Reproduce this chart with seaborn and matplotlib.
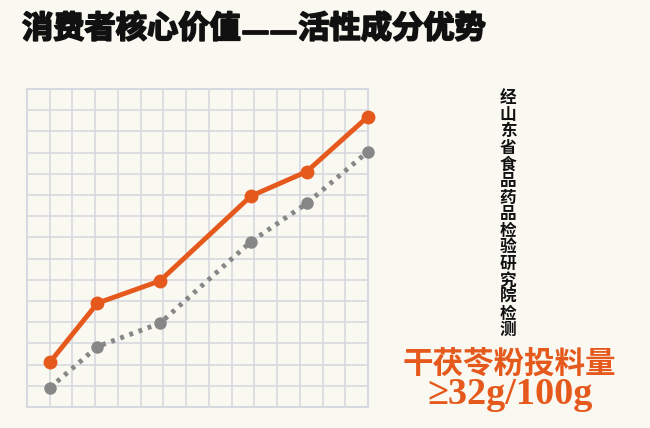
import matplotlib
matplotlib.use("Agg")
import matplotlib.pyplot as plt
import matplotlib.patheffects as pe
import seaborn as sns
import pandas as pd

# ---- data ----
x_pos = [1, 3.1, 5.85, 9.85, 12.3, 15]
orange_vals = [2.1, 4.9, 5.95, 9.95, 11.1, 13.7]
gray_vals = [0.9, 2.85, 3.95, 7.8, 9.6, 12.05]
title_left = "消费者核心价值"
title_dash = "——"
title_right = "活性成分优势"
side_note = "经山东省食品药品检验研究院检测"
highlight_1 = "干茯苓粉投料量"
highlight_2 = "≥32g/100g"

BG = "#FAF9F1"
ORANGE = "#E5591D"
GRAY = "#878787"
GRID = "#D6D9E0"

sns.set_theme(style="white")
plt.rcParams['font.family'] = ['Noto Sans CJK SC', 'DejaVu Sans']

fig = plt.figure(figsize=(6.5, 4.28), dpi=100)
fig.patch.set_facecolor(BG)
ax = fig.add_axes([27/650, 21/428, 341/650, 318/428])
ax.set_facecolor(BG)

df_o = pd.DataFrame({"x": x_pos, "y": orange_vals})
df_g = pd.DataFrame({"x": x_pos, "y": gray_vals})

sns.lineplot(data=df_g, x="x", y="y", ax=ax, color=GRAY, linewidth=3.5,
             linestyle=(0, (0.8, 1.2)), marker="o", markersize=9,
             markeredgewidth=0, clip_on=False, zorder=3)
sns.lineplot(data=df_o, x="x", y="y", ax=ax, color=ORANGE, linewidth=3.5,
             marker="o", markersize=10, markeredgewidth=0, clip_on=False, zorder=4)

ax.set_xlim(0, 15)
ax.set_ylim(0, 15)
ax.set_xticks(range(16))
ax.set_yticks(range(16))
ax.set_xticklabels([])
ax.set_yticklabels([])
ax.tick_params(length=0)
ax.grid(True, color=GRID, linewidth=1.2)
ax.set_axisbelow(True)
ax.set_xlabel("")
ax.set_ylabel("")
for s in ax.spines.values():
    s.set_color(GRID)
    s.set_linewidth(1.5)

# ---- title in three pieces so the dash renders as one continuous rule ----
heavy = [pe.withStroke(linewidth=1.3, foreground="#111111")]
renderer = fig.canvas.get_renderer()
ty = 1 - 29/428
t1 = fig.text(22/650, ty, title_left, fontsize=22.5, fontweight="bold",
              color="#111111", ha="left", va="center", path_effects=heavy)
bb = t1.get_window_extent(renderer)
x_dash = bb.x1 / fig.bbox.width + 1/650
t2 = fig.text(x_dash, ty - 3/428, title_dash, fontsize=20, fontweight="bold",
              color="#111111", ha="left", va="center",
              family=['DejaVu Sans'], path_effects=heavy)
bb2 = t2.get_window_extent(renderer)
x_right = bb2.x1 / fig.bbox.width + 1/650
fig.text(x_right, ty, title_right, fontsize=22.5, fontweight="bold",
         color="#111111", ha="left", va="center", path_effects=heavy)

fig.text(508/650, 1 - 89/428, "\n".join(side_note), fontsize=12,
         fontweight="bold", color="#111111", ha="center", va="top",
         linespacing=0.9)

fig.text(509/650, 1 - 364/428, highlight_1, fontsize=22, fontweight="bold",
         color=ORANGE, ha="center", va="center")
fig.text(510/650, 1 - 395/428, highlight_2, fontsize=27.5, fontweight="bold",
         color=ORANGE, ha="center", va="center",
         family=['Liberation Serif', 'DejaVu Serif'])

fig.savefig("out.png", dpi=100, facecolor=BG)
